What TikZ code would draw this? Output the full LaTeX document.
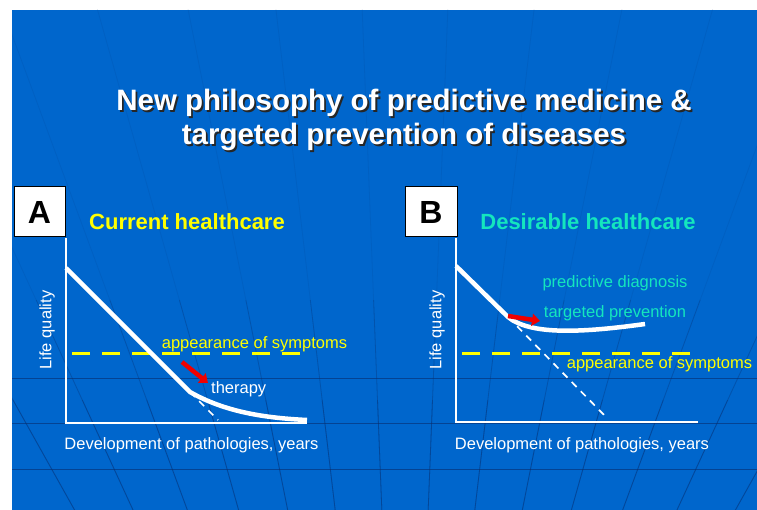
\documentclass[tikz,border=0pt]{standalone}
\usepackage{fontspec}
\setmainfont{Liberation Sans}
\usetikzlibrary{arrows.meta}
\definecolor{slideblue}{RGB}{0,102,204}
\definecolor{globeline}{RGB}{8,45,110}
\definecolor{symyellow}{RGB}{255,255,0}
\definecolor{aqua}{RGB}{20,230,190}
\definecolor{arrowred}{RGB}{240,0,0}
\newcommand{\shadowtext}[1]{\leavevmode\rlap{\kern1.8pt\raisebox{-1.8pt}{\textcolor{black!85}{#1}}}#1}
\begin{document}
\begin{tikzpicture}[x=1pt,y=-1pt,
  axisline/.style={white, line width=1.2pt},
  course/.style={white, line width=4.5pt, line join=round},
  trend/.style={white, line width=1.7pt, dash pattern=on 7pt off 6pt},
  symptoms/.style={symyellow, line width=3pt, dash pattern=on 18pt off 12pt},
  cure/.style={arrowred, line width=4.5pt, -{Triangle[length=8pt,width=12pt]}},
  letter/.style={draw=black, fill=white, line width=1pt, minimum width=51pt, minimum height=50pt, font=\fontsize{32}{36}\selectfont\bfseries},
  heading/.style={font=\fontsize{22}{26}\selectfont\bfseries},
  caption/.style={white, font=\fontsize{16.5}{20}\selectfont, inner sep=0pt},
  meridian/.style={globeline, line width=.8pt},
]
\useasboundingbox[fill=white] (0,0) rectangle (757,510);
\fill[slideblue] (12,10) rectangle (757,510);
% globe in the background
\begin{scope}
\clip (12,10) rectangle (757,510);
\coordinate (pole) at (405,1100);
\foreach \ang in {-38.25,-33.75,...,38.25}{
  \draw[meridian, opacity=.1] (pole) -- ++({-90+\ang}:1300);
  \draw[meridian, opacity=.25] (pole) -- ++({-90+\ang}:{800/cos(\ang)});
  \draw[meridian, opacity=.3] (pole) -- ++({-90+\ang}:{700/cos(\ang)});
}
\foreach \yy in {378,423,469}
  \draw[meridian, opacity=.6] (12,\yy) -- (757,\yy);
\end{scope}
% title
\node[white, align=center, font=\fontsize{29.5}{34}\selectfont\bfseries] (title) at (404,121)
  {\shadowtext{New philosophy of predictive medicine \&}\\\shadowtext{targeted prevention of diseases}};
% panel A
\node[letter] (boxA) at (39.5,212) {A};
\node[heading, symyellow] (headA) at (187,222) {Current healthcare};
\coordinate (aTop) at (66,238);
\coordinate (aOrig) at (66,423);
\coordinate (aEnd) at (307,423);
\draw[axisline] (aTop) -- (aOrig) -- (aEnd);
\coordinate (aSymL) at (72,353);
\coordinate (aSymR) at (308,353);
\draw[symptoms] (aSymL) -- (aSymR);
\coordinate (aStart) at (66,268);
\coordinate (aBend) at (190,392);
\coordinate (aLow) at (307,420);
\coordinate (aProj) at (218,420);
\draw[trend] (aBend) -- (aProj);
\draw[course] (aStart) -- (aBend) .. controls (225,412) and (265,418) .. (aLow);
\coordinate (aArrS) at (182,362);
\coordinate (aArrE) at (208,383);
\draw[cure] (aArrS) -- (aArrE);
\node[caption, symyellow] (symA) at (254.5,344) {appearance of symptoms};
\node[caption, anchor=west] (therapy) at (211,389) {therapy};
\node[caption, rotate=90] (lifeA) at (47,330) {Life quality};
\node[caption] (devA) at (191.5,445) {Development of pathologies, years};
% panel B
\node[letter, minimum width=52pt] (boxB) at (431,212) {B};
\node[heading, aqua] (headB) at (588,222) {Desirable healthcare};
\coordinate (bTop) at (456,238);
\coordinate (bOrig) at (456,422);
\coordinate (bEnd) at (698,422);
\draw[axisline] (bTop) -- (bOrig) -- (bEnd);
\coordinate (bSymL) at (462,353);
\coordinate (bSymR) at (698,353);
\draw[symptoms] (bSymL) -- (bSymR);
\coordinate (bStart) at (456,266);
\coordinate (bBend) at (508,317);
\coordinate (bHigh) at (645,324);
\coordinate (bProj) at (608,419);
\draw[trend] (bBend) -- (bProj);
\draw[course] (bStart) -- (bBend) .. controls (530,335) and (580,333) .. (bHigh);
\coordinate (bArrS) at (508,316);
\coordinate (bArrE) at (540,321);
\draw[cure] (bArrS) -- (bArrE);
\node[caption, aqua] (diag) at (615,283) {predictive diagnosis};
\node[caption, aqua] (prev) at (615,313) {targeted prevention};
\node[caption, symyellow] (symB) at (659.5,364) {appearance of symptoms};
\node[caption, rotate=90] (lifeB) at (437,330) {Life quality};
\node[caption] (devB) at (582,445) {Development of pathologies, years};
\end{tikzpicture}
\end{document}
